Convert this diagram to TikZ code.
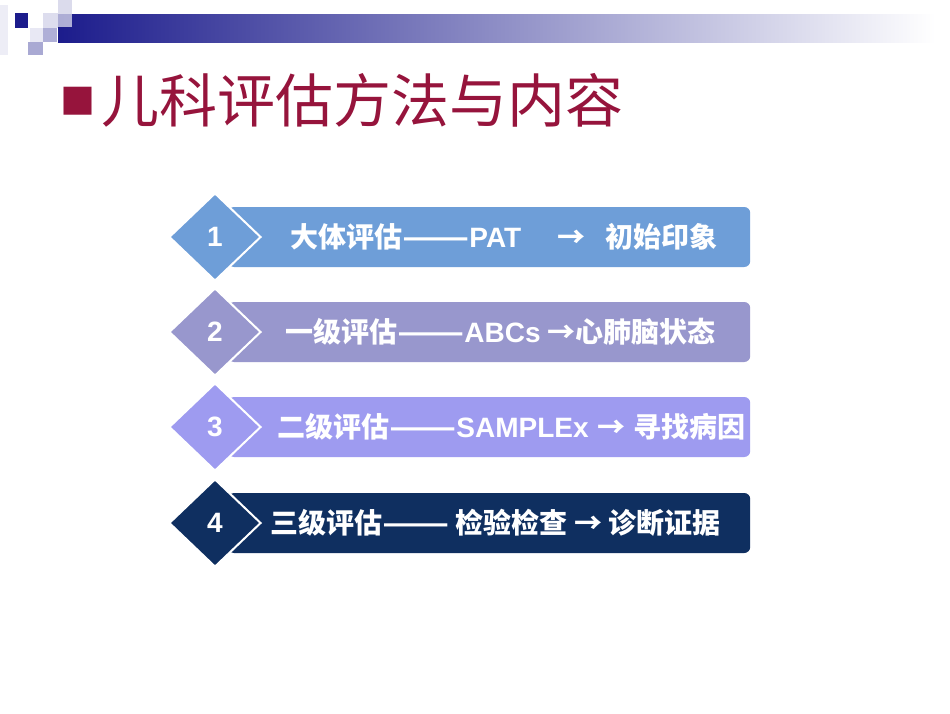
\documentclass[tikz,border=0pt]{standalone}
\usepackage{fontspec}
\usepackage{graphicx}
\setmainfont{Liberation Sans}
\newfontfamily\cjk{Noto Sans CJK SC}
\newfontfamily\latbold{Liberation Sans Bold}
\usetikzlibrary{shapes.geometric}
\definecolor{titlered}{HTML}{96143C}
\definecolor{barnavy}{HTML}{1C1C8C}
\definecolor{boxone}{HTML}{6E9ED8}
\definecolor{boxtwo}{HTML}{9897CD}
\definecolor{boxthree}{HTML}{9E9BF0}
\definecolor{boxfour}{HTML}{0F2F60}
\newcommand{\lat}[1]{{\latbold #1}}
\newcommand{\longdash}{\scalebox{1.4}[1]{——}}
\tikzset{basic/.style={inner sep=0pt,text=white}}
\tikzset{stripe/.style={basic,rectangle,rounded corners=6pt,
                        minimum width=522pt,minimum height=60pt,anchor=west}}
\tikzset{badge/.style={basic,diamond,draw=white,line width=2pt,
                       minimum width=92pt,minimum height=88pt,
                       font=\latbold\fontsize{28}{28}\selectfont}}
\tikzset{stripetext/.style={basic,anchor=west,
                            font=\cjk\bfseries\fontsize{28}{28}\selectfont}}

\begin{document}
\begin{tikzpicture}[x=1pt,y=-1pt]
    \useasboundingbox[fill=white] (0,0) rectangle (950,713);

    % header bar and squares
    \shade[left color=barnavy,right color=white] (58,14) rectangle (935,42);
    \fill[barnavy!8]  (0,5) rectangle (8,55);
    \fill[barnavy]    (15,13) rectangle (28,28);
    \fill[barnavy!15] (43,13) rectangle (58,28);
    \fill[barnavy!20,opacity=.8] (58,0) rectangle (72,27);
    \fill[barnavy!10] (30,28) rectangle (43,42);
    \fill[barnavy!35] (43,28) rectangle (57,42);
    \fill[barnavy!38] (28,42) rectangle (43,55);

    % title
    \node[anchor=west,inner sep=0pt,text=titlered,
          font=\cjk\fontsize{58}{58}\selectfont] (title) at (60,100)
          {\raisebox{8pt}{\fontsize{35}{35}\selectfont ■}\hspace{6pt}儿科评估方法与内容};

    % steps
    \foreach \c/\y/\x/\t [count=\i] in {
        boxone/237/290/{大体评估\longdash\lat{PAT}\hspace{36pt}→\hspace{20pt}初始印象},
        boxtwo/332/285/{一级评估\longdash\lat{ABCs} →心肺脑状态},
        boxthree/427/277/{二级评估\longdash\lat{SAMPLEx} \hspace{2pt}→ \hspace{2pt}寻找病因},
        boxfour/523/270/{三级评估\longdash{} 检验检查 → 诊断证据}}{%
        \node[stripe,fill=\c] (box\i) at (228,\y) {};
        \node[stripetext] (txt\i) at (\x,\y) {\t};
        \node[badge,fill=\c] (num\i) at (215,\y) {\i};
    }
\end{tikzpicture}
\end{document}
